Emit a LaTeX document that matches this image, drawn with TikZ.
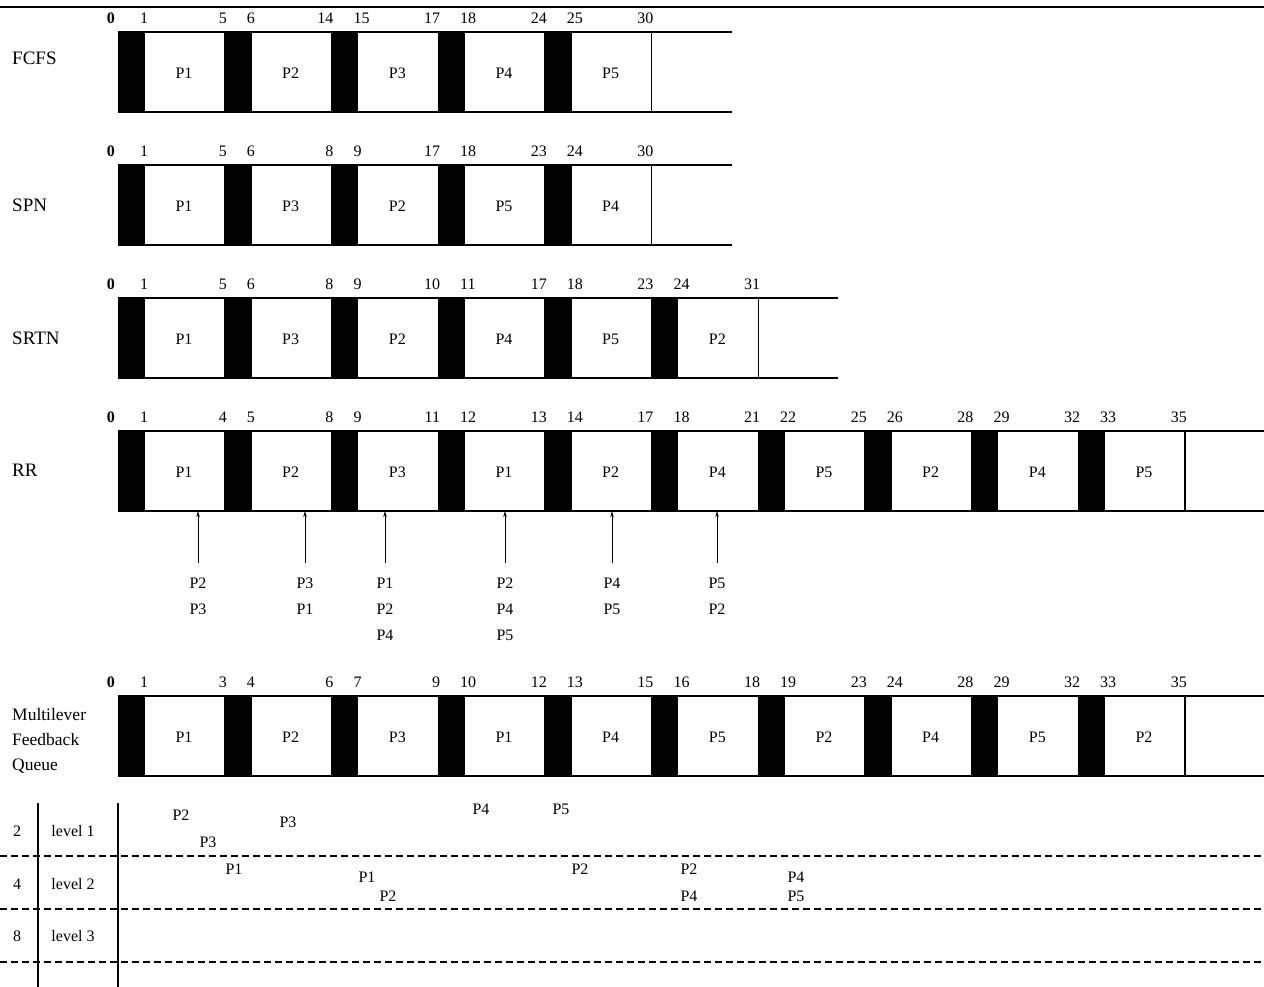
\documentclass[tikz,border=0pt]{standalone}
\usepackage{fontspec}
\setmainfont{Liberation Serif}
\usetikzlibrary{arrows.meta}
\newcommand\fs{\fontsize{16}{26}\selectfont}
\newcommand\fst{\fontsize{19}{25}\selectfont}
\tikzset{
  box/.style={line width=1.2pt},
  lbl/.style={font=\fs, inner sep=0pt},
  ttl/.style={font=\fst, inner sep=0pt, anchor=west},
  num/.style={font=\fs, inner sep=0pt},
  arr/.style={line width=0.9pt, -{Stealth[length=6pt,width=3.5pt]}},
  dsh/.style={line width=1.1pt, dash pattern=on 7pt off 4pt},
}
\newcommand\ganttrow[4]{%
  \pgfmathsetmacro\rowend{118+(#3-1)*106.667+107}
  \pgfmathsetmacro\rowbot{#2+80}
  \pgfmathsetmacro\numy{#2-14}
  \node[num, anchor=east] (#1n0) at (115,\numy) {\textbf{0}};
  \foreach \la/\sa/\ea [count=\i from 0] in {#4} {
    \pgfmathsetmacro\xa{118+\i*106.667}
    \pgfmathsetmacro\xb{\xa+27}
    \pgfmathsetmacro\xc{\xa+107}
    \fill (\xa,#2) rectangle (\xb,\rowbot);
    \draw[box] (\xc,#2) -- (\xc,\rowbot);
    \node[lbl] (#1p\i) at ({(\xb+\xc)/2-1},{#2+41}) {\la};
    \node[num, anchor=west] (#1s\i) at ({\xb-5},\numy) {\sa};
    \node[num, anchor=east] (#1e\i) at ({\xc+2},\numy) {\ea};
  }
  \draw[box] (118,#2) -- ({\rowend+80},#2);
  \draw[box] (118,\rowbot) -- ({\rowend+80},\rowbot);
}
\begin{document}
\begin{tikzpicture}[x=1pt,y=-1pt]
\useasboundingbox (0,0) rectangle (1264,987);
\draw[line width=2pt] (0,7) -- (1264,7);

% row titles
\node[ttl] (tfcfs) at (12,58) {FCFS};
\node[ttl] (tspn) at (12,205) {SPN};
\node[ttl] (tsrtn) at (12,338) {SRTN};
\node[ttl] (trr) at (12,470) {RR};
\node[ttl, align=left, font={\fontsize{17.5}{25}\selectfont}] (tmlfq) at (12,741) {Multilever\\Feedback\\Queue};

\ganttrow{fcfs}{32}{5}{P1/1/5, P2/6/14, P3/15/17, P4/18/24, P5/25/30}
\ganttrow{spn}{165}{5}{P1/1/5, P3/6/8, P2/9/17, P5/18/23, P4/24/30}
\ganttrow{srtn}{298}{6}{P1/1/5, P3/6/8, P2/9/10, P4/11/17, P5/18/23, P2/24/31}
\ganttrow{rr}{431}{10}{P1/1/4, P2/5/8, P3/9/11, P1/12/13, P2/14/17, P4/18/21, P5/22/25, P2/26/28, P4/29/32, P5/33/35}
\ganttrow{ml}{696}{10}{P1/1/3, P2/4/6, P3/7/9, P1/10/12, P4/13/15, P5/16/18, P2/19/23, P4/24/28, P5/29/32, P2/33/35}

% RR ready queues
\foreach \x/\q [count=\k] in {198/{P2\\P3}, 305/{P3\\P1}, 385/{P1\\P2\\P4}, 505/{P2\\P4\\P5}, 612/{P4\\P5}, 717/{P5\\P2}} {
  \node[lbl, anchor=north, align=center] (rrq\k) at (\x,578) {\q};
  \coordinate (rrh\k) at (\x,511);
  \draw[arr, shorten <=15pt] (rrq\k.north) -- (rrh\k);
}

% MLFQ level table
\draw[box] (38,803) -- (38,987);
\draw[box] (118,803) -- (118,987);
\draw[dsh] (0,856) -- (1264,856);
\draw[dsh] (0,909) -- (1264,909);
\draw[dsh] (0,962) -- (1264,962);
\node[lbl] (q1) at (17,831) {2};
\node[lbl] (l1) at (73,831) {level 1};
\node[lbl] (q2) at (17,884) {4};
\node[lbl] (l2) at (73,884) {level 2};
\node[lbl] (q3) at (17,936) {8};
\node[lbl] (l3) at (73,936) {level 3};

% level 1 contents
\node[lbl] (a1) at (181,815) {P2};
\node[lbl] (a2) at (208,842) {P3};
\node[lbl] (a3) at (288,822) {P3};
\node[lbl] (a4) at (481,809) {P4};
\node[lbl] (a5) at (561,809) {P5};
% level 2 contents
\node[lbl] (b1) at (234,869) {P1};
\node[lbl] (b2) at (367,877) {P1};
\node[lbl] (b3) at (388,896) {P2};
\node[lbl] (b4) at (580,869) {P2};
\node[lbl] (b5) at (689,869) {P2};
\node[lbl] (b6) at (689,896) {P4};
\node[lbl] (b7) at (796,877) {P4};
\node[lbl] (b8) at (796,896) {P5};
\end{tikzpicture}
\end{document}
